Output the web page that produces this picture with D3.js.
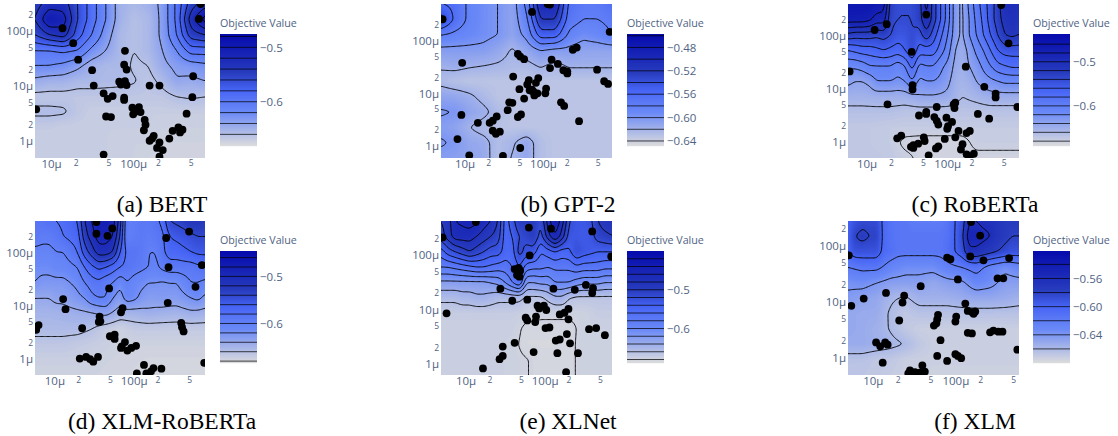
<!DOCTYPE html>
<html><head><meta charset="utf-8">
<script src="https://cdn.jsdelivr.net/npm/d3@7"></script>
<style>html,body{margin:0;padding:0;background:#fff}svg{display:block}</style>
</head><body><svg id="c" width="1118" height="436"></svg>
<script>
// Axis ticks (learning-rate style log axes, values in micro units)
const xTickValues=[10,20,50,100,200,500];
const xTickLabels=["10µ","2","5","100µ","2","5"];
const yTickValues=[1,2,5,10,20,50,100,200];
const yTickLabels=["1µ","2","5","10µ","2","5","100µ","2"];

// BERT
const bertX=[1.14,1.27,1.33,1.50,1.90,1.89,1.92,1.83,1.85,1.90,1.92,1.52,1.64,1.75,1.69,1.89,1.89,2.20,2.32,2.73,2.72,2.80,2.82,.82,1.67,1.73,1.99,2.07,2.02,2.09,2.00,2.14,2.15,2.13,2.65,2.48,2.55,2.60,2.57,2.44,2.25,2.23,2.20,2.32,2.29,2.36,2.32,1.64];
const bertY=[2.05,1.78,1.48,1.29,1.64,1.39,1.30,1.08,1.03,1.09,1.02,1.01,.87,.82,.77,.79,.75,1.01,1.01,1.18,.80,2.22,2.49,.58,.45,.44,.61,.62,.53,.53,.49,.39,.30,.20,.50,.19,.25,.21,.16,.05,.10,.05,.01,-.02,-.12,-.16,-.28,-.24];
const bertZ=[
[-.55,-.53,-.53,-.56,-.59,-.62,-.65,-.655,-.65,-.635,-.595,-.55,-.53],
[-.54,-.50,-.51,-.56,-.59,-.62,-.65,-.66,-.655,-.635,-.595,-.53,-.49],
[-.56,-.54,-.53,-.57,-.60,-.63,-.655,-.66,-.655,-.635,-.60,-.55,-.54],
[-.60,-.60,-.595,-.60,-.625,-.64,-.655,-.66,-.655,-.64,-.62,-.59,-.59],
[-.62,-.62,-.625,-.635,-.65,-.655,-.655,-.662,-.66,-.645,-.635,-.63,-.625],
[-.645,-.65,-.65,-.655,-.655,-.656,-.657,-.659,-.665,-.656,-.642,-.645,-.64],
[-.665,-.665,-.665,-.665,-.665,-.665,-.665,-.665,-.665,-.665,-.66,-.658,-.66],
[-.657,-.657,-.658,-.665,-.67,-.67,-.67,-.67,-.67,-.67,-.67,-.67,-.67],
[-.668,-.668,-.67,-.67,-.67,-.67,-.67,-.67,-.67,-.672,-.672,-.672,-.672],
[-.67,-.67,-.67,-.67,-.67,-.67,-.672,-.672,-.672,-.674,-.674,-.674,-.674],
[-.67,-.67,-.67,-.67,-.67,-.67,-.672,-.672,-.674,-.675,-.675,-.675,-.675]];
const bertLevels=[-.48,-.5,-.52,-.54,-.56,-.58,-.6,-.62,-.64,-.66];
const bertTicks=[-.5,-.6];

// GPT-2
const gptX=[.72,1.86,2.85,2.06,2.09,2.38,2.43,1.68,1.71,1.76,.97,2.11,2.19,2.09,2.26,2.31,2.31,2.69,1.62,1.82,1.80,1.94,1.91,2.78,2.83,1.70,1.86,1.85,1.83,1.88,1.93,1.89,2.04,2.03,1.76,1.57,1.61,2.23,2.27,1.55,1.72,1.68,1.41,1.36,1.32,1.17,.96,2.46,1.36,1.40,1.45,.91,1.71,1.06,1.49];
const gptY=[2.41,2.55,2.17,2.70,2.69,1.83,1.87,1.75,1.70,1.65,1.58,1.64,1.56,1.48,1.44,1.42,1.38,1.45,1.32,1.25,1.17,1.29,1.20,1.23,1.18,1.08,1.07,1.05,1.06,1.03,1.00,.96,1.09,1.00,.90,.83,.82,.83,.76,.68,.60,.55,.56,.48,.44,.44,.59,.47,.29,.23,.27,.13,-.04,-.18,-.19];
const gptZ=[
[-.56,-.565,-.585,-.595,-.60,-.61,-.575,-.50,-.50,-.565,-.575,-.575,-.565],
[-.53,-.565,-.585,-.595,-.60,-.61,-.585,-.52,-.52,-.57,-.58,-.58,-.575],
[-.58,-.585,-.59,-.595,-.60,-.61,-.595,-.55,-.55,-.585,-.595,-.59,-.58],
[-.605,-.605,-.605,-.605,-.612,-.622,-.612,-.60,-.605,-.605,-.61,-.61,-.61],
[-.618,-.615,-.618,-.62,-.622,-.625,-.625,-.618,-.625,-.618,-.618,-.618,-.618],
[-.625,-.63,-.632,-.632,-.632,-.632,-.632,-.632,-.632,-.632,-.632,-.632,-.632],
[-.61,-.612,-.617,-.625,-.632,-.632,-.632,-.632,-.632,-.632,-.632,-.632,-.632],
[-.598,-.60,-.61,-.616,-.626,-.632,-.632,-.632,-.632,-.632,-.632,-.632,-.632],
[-.605,-.61,-.62,-.626,-.63,-.632,-.632,-.632,-.632,-.632,-.632,-.632,-.632],
[-.598,-.602,-.612,-.615,-.627,-.622,-.612,-.628,-.632,-.632,-.632,-.632,-.632],
[-.605,-.608,-.61,-.614,-.628,-.619,-.612,-.628,-.632,-.632,-.632,-.632,-.632]];
const gptLevels=[-.46,-.48,-.5,-.52,-.54,-.56,-.58,-.6,-.62,-.64];
const gptTicks=[-.48,-.52,-.56,-.6,-.64];

// RoBERTa
const robertaX=[1.10,1.25,1.74,2.67,2.76,1.56,.79,2.23,1.57,1.57,2.46,2.60,2.60,1.26,1.87,2.10,2.08,2.09,2.87,1.74,1.74,1.65,2.38,2.52,1.84,1.87,1.89,1.99,2.06,2.01,2.00,2.14,2.28,2.24,1.43,1.38,1.71,1.72,1.97,2.10,1.64,1.58,1.55,1.58,1.89,1.86,2.19,2.17,2.24,2.33,2.28,1.77];
const robertaY=[2.11,2.22,2.40,2.58,1.86,1.70,1.33,1.42,1.07,.99,1.04,.91,.84,.71,.66,.74,.71,.64,.66,.57,.53,.50,.53,.44,.47,.40,.33,.46,.38,.30,.25,.21,.21,.17,.12,.07,.09,.02,.06,.09,-.03,-.06,-.09,-.11,-.08,-.12,-.04,-.14,-.23,-.22,-.27,-.25];
const robertaZ=[
[-.46,-.46,-.46,-.46,-.465,-.47,-.53,-.54,-.54,-.54,-.53,-.49,-.53,-.56,-.59,-.63,-.645,-.615,-.59,-.57,-.55,-.53,-.50,-.50,-.505],
[-.47,-.47,-.47,-.475,-.49,-.49,-.535,-.54,-.54,-.54,-.53,-.50,-.53,-.56,-.59,-.63,-.645,-.62,-.595,-.575,-.55,-.53,-.51,-.505,-.51],
[-.525,-.53,-.53,-.53,-.535,-.53,-.54,-.55,-.55,-.54,-.55,-.525,-.55,-.575,-.60,-.63,-.645,-.62,-.60,-.58,-.56,-.54,-.52,-.515,-.52],
[-.58,-.575,-.57,-.57,-.565,-.56,-.565,-.57,-.56,-.54,-.57,-.57,-.57,-.59,-.61,-.64,-.65,-.635,-.615,-.60,-.58,-.56,-.55,-.55,-.55],
[-.615,-.615,-.61,-.60,-.60,-.60,-.60,-.61,-.60,-.57,-.605,-.60,-.60,-.615,-.625,-.645,-.65,-.64,-.63,-.615,-.60,-.585,-.58,-.575,-.575],
[-.635,-.64,-.64,-.635,-.62,-.62,-.62,-.625,-.62,-.60,-.625,-.62,-.62,-.625,-.635,-.65,-.655,-.65,-.64,-.63,-.625,-.62,-.615,-.615,-.615],
[-.652,-.652,-.65,-.65,-.65,-.642,-.642,-.645,-.66,-.655,-.648,-.648,-.648],
[-.665,-.665,-.665,-.665,-.668,-.668,-.668,-.668,-.668,-.668,-.668,-.668,-.668],
[-.672,-.672,-.673,-.675,-.675,-.675,-.675,-.675,-.675,-.675,-.675,-.675,-.675],
[-.672,-.672,-.673,-.675,-.683,-.684,-.684,-.684,-.684,-.677,-.677,-.677,-.677],
[-.672,-.672,-.672,-.673,-.677,-.682,-.684,-.684,-.684,-.683,-.683,-.683,-.683]];
const robertaLevels=[-.46,-.48,-.5,-.52,-.54,-.56,-.58,-.6,-.62,-.64,-.66,-.68];
const robertaTicks=[-.5,-.6];

// XLM-RoBERTa
const xlmRobertaX=[1.53,1.53,1.67,1.73,2.70,2.41,2.44,2.86,2.78,1.69,1.11,1.14,2.43,1.86,1.84,1.57,1.58,1.56,.80,.77,1.35,2.60,2.61,2.63,1.70,1.76,1.76,1.89,1.85,1.84,1.92,1.97,2.03,1.32,1.40,1.45,1.49,1.55,2.13,2.25,2.35,2.22,2.16,2.04,2.89];
const xlmRobertaY=[2.58,2.36,2.32,2.46,2.40,2.28,1.73,1.77,1.36,1.33,1.13,.94,1.06,.96,.88,.80,.71,.70,.64,.55,.58,.68,.60,.52,.43,.46,.38,.32,.24,.21,.16,.21,.25,.01,.04,0,-.05,.04,-.11,-.17,-.18,-.23,-.27,-.27,-.07];
const xlmRobertaZ=[
[-.585,-.585,-.58,-.58,-.575,-.57,-.56,-.52,-.50,-.48,-.48,-.49,-.53,-.60,-.595,-.59,-.59,-.585,-.575,-.54,-.535,-.53,-.52,-.52,-.525],
[-.59,-.595,-.595,-.59,-.58,-.575,-.57,-.53,-.51,-.49,-.49,-.50,-.54,-.60,-.595,-.59,-.595,-.59,-.585,-.56,-.555,-.55,-.545,-.54,-.54],
[-.605,-.605,-.605,-.60,-.60,-.59,-.58,-.55,-.53,-.51,-.51,-.52,-.56,-.585,-.585,-.59,-.60,-.60,-.585,-.57,-.57,-.565,-.56,-.555,-.555],
[-.615,-.615,-.615,-.61,-.61,-.605,-.60,-.58,-.565,-.555,-.56,-.57,-.58,-.585,-.59,-.595,-.60,-.605,-.595,-.59,-.59,-.59,-.59,-.585,-.58],
[-.62,-.625,-.625,-.625,-.625,-.62,-.615,-.60,-.59,-.585,-.595,-.60,-.615,-.60,-.61,-.615,-.62,-.62,-.622,-.62,-.62,-.61,-.60,-.60,-.605],
[-.64,-.64,-.64,-.635,-.635,-.63,-.625,-.62,-.605,-.60,-.60,-.62,-.63,-.61,-.615,-.625,-.63,-.63,-.628,-.63,-.63,-.625,-.62,-.615,-.625],
[-.65,-.65,-.648,-.645,-.642,-.635,-.65,-.65,-.645,-.648,-.65,-.645,-.648],
[-.655,-.655,-.655,-.655,-.66,-.67,-.675,-.668,-.668,-.668,-.668,-.668,-.668],
[-.665,-.665,-.665,-.668,-.67,-.672,-.675,-.675,-.675,-.675,-.675,-.675,-.675],
[-.672,-.672,-.672,-.672,-.674,-.675,-.676,-.677,-.678,-.678,-.678,-.678,-.678],
[-.675,-.675,-.675,-.675,-.675,-.676,-.677,-.678,-.678,-.678,-.678,-.678,-.678]];
const xlmRobertaLevels=[-.46,-.48,-.5,-.52,-.54,-.56,-.58,-.6,-.62,-.64,-.66,-.68];
const xlmRobertaTicks=[-.5,-.6];

// XLNet
const xlnetX=[1.13,1.80,2.08,2.60,.71,1.81,2.84,1.62,1.67,1.69,1.65,1.68,1.44,2.11,2.38,2.52,2.61,2.60,1.59,1.78,.76,1.91,1.93,1.99,2.02,2.30,2.19,2.25,2.30,1.76,1.78,1.89,1.88,2.01,2.06,2.56,2.65,2.28,2.76,1.47,1.62,2.14,2.19,2.32,1.86,2.16,2.42,1.47,1.43,1.22,2.27];
const xlnetY=[2.60,2.50,2.48,2.43,2.32,1.99,1.97,1.74,1.76,1.71,1.63,1.60,1.38,1.38,1.36,1.45,1.39,1.30,1.16,1.18,.93,1.07,1.02,1.07,.99,1.01,.91,.94,.82,.85,.80,.87,.77,.66,.67,.64,.66,.55,.53,.32,.39,.43,.45,.38,.22,.20,.20,.15,.09,-.08,-.15];
const xlnetZ=[
[-.50,-.49,-.46,-.455,-.45,-.455,-.47,-.48,-.50,-.55,-.53,-.50,-.50,-.50,-.52,-.47,-.44,-.47,-.52,-.53,-.53,-.525,-.50,-.49,-.49],
[-.51,-.49,-.47,-.47,-.47,-.48,-.49,-.50,-.51,-.55,-.54,-.52,-.51,-.50,-.53,-.49,-.46,-.49,-.53,-.53,-.535,-.53,-.51,-.505,-.50],
[-.55,-.53,-.52,-.51,-.50,-.51,-.52,-.53,-.53,-.55,-.55,-.51,-.53,-.53,-.56,-.55,-.54,-.55,-.545,-.52,-.53,-.535,-.54,-.54,-.54],
[-.58,-.58,-.575,-.57,-.565,-.56,-.56,-.565,-.57,-.57,-.56,-.54,-.57,-.575,-.575,-.58,-.575,-.575,-.575,-.565,-.57,-.57,-.57,-.575,-.575],
[-.625,-.625,-.625,-.625,-.625,-.625,-.625,-.62,-.615,-.60,-.58,-.56,-.62,-.62,-.615,-.615,-.60,-.60,-.60,-.61,-.615,-.615,-.615,-.62,-.62],
[-.655,-.655,-.655,-.65,-.65,-.645,-.645,-.65,-.655,-.655,-.655,-.655,-.665,-.665,-.665,-.655,-.645,-.645,-.66,-.665,-.665,-.665,-.665,-.665,-.665],
[-.672,-.672,-.672,-.672,-.672,-.672,-.676,-.678,-.678,-.678,-.678,-.672,-.672],
[-.675,-.675,-.675,-.675,-.675,-.675,-.683,-.683,-.683,-.683,-.677,-.676,-.676],
[-.675,-.675,-.675,-.675,-.675,-.677,-.684,-.684,-.684,-.683,-.676,-.676,-.676],
[-.675,-.675,-.675,-.675,-.675,-.677,-.6795,-.683,-.683,-.683,-.676,-.676,-.676],
[-.675,-.675,-.675,-.675,-.675,-.677,-.6795,-.683,-.683,-.683,-.676,-.676,-.676]];
const xlnetLevels=[-.42,-.44,-.46,-.48,-.5,-.52,-.54,-.56,-.58,-.6,-.62,-.64,-.66,-.68];
const xlnetTicks=[-.5,-.6];

// XLM
const xlmX=[2.19,2.30,.71,1.90,1.94,2.18,2.34,2.65,2.03,2.51,2.58,1.58,1.16,1.38,.89,1.36,.74,2.12,2.15,2.20,2.24,2.22,1.79,1.78,2.01,2.00,1.32,1.77,1.74,2.15,2.20,2.42,2.46,2.52,2.57,1.82,1.04,1.09,1.15,1.18,2.75,1.78,2.00,2.03,2.07,1.90,1.12,1.60,1.45,1.51,1.63,1.57,1.43];
const xlmY=[2.42,2.18,1.83,1.79,1.76,1.81,1.74,1.78,1.40,1.42,1.42,1.28,1.16,1.11,1.06,.99,.93,.97,.84,.82,.83,.79,.77,.69,.74,.65,.67,.62,.58,.45,.44,.46,.49,.47,.47,.32,.28,.21,.28,.24,.15,.04,.07,.04,0,-.05,-.08,-.13,-.22,-.25,-.24,-.26,-.27];
const xlmZ=[
[-.60,-.59,-.585,-.585,-.585,-.605,-.612,-.615,-.615,-.62,-.62,-.62,-.62,-.62,-.615,-.60,-.59,-.56,-.56,-.565,-.565,-.57,-.575,-.575,-.575],
[-.60,-.58,-.575,-.58,-.58,-.605,-.612,-.615,-.615,-.615,-.615,-.615,-.615,-.615,-.612,-.60,-.585,-.55,-.55,-.555,-.56,-.57,-.575,-.58,-.58],
[-.60,-.59,-.59,-.59,-.59,-.605,-.61,-.615,-.615,-.615,-.615,-.615,-.615,-.615,-.61,-.60,-.59,-.565,-.565,-.57,-.575,-.58,-.585,-.59,-.59],
[-.62,-.615,-.615,-.628,-.635,-.635,-.635,-.625,-.62,-.612,-.628,-.637,-.63],
[-.638,-.635,-.64,-.645,-.645,-.645,-.65,-.645,-.643,-.63,-.635,-.645,-.645],
[-.642,-.647,-.65,-.658,-.662,-.655,-.655,-.655,-.652,-.65,-.65,-.652,-.655],
[-.65,-.652,-.652,-.662,-.668,-.665,-.665,-.665,-.665,-.665,-.665,-.665,-.665],
[-.65,-.652,-.655,-.661,-.668,-.672,-.672,-.672,-.672,-.672,-.672,-.672,-.672],
[-.652,-.652,-.654,-.657,-.660,-.668,-.672,-.672,-.672,-.672,-.672,-.672,-.672],
[-.665,-.665,-.668,-.668,-.672,-.672,-.672,-.672,-.672,-.672,-.672,-.672,-.672],
[-.667,-.667,-.668,-.67,-.672,-.672,-.674,-.674,-.674,-.674,-.674,-.674,-.674]];
const xlmLevels=[-.54,-.56,-.58,-.6,-.62,-.64,-.66];
const xlmTicks=[-.56,-.6,-.64];

const names=["(a) BERT","(b) GPT-2","(c) RoBERTa","(d) XLM-RoBERTa","(e) XLNet","(f) XLM"];

const colX=[[35,205,220,162],[441,612,627,568],[848,1019,1033,975]];
const rowY=[[4,158,34,146,212,27],[221,375,251,363,429,244]];
const panels=[
 {c:0,r:0,xd:[.805,2.874],yd:[-.303,2.49],zd:[-.6814,-.4755],X:bertX,Y:bertY,Z:bertZ,L:bertLevels,T:bertTicks,f:".1f"},
 {c:1,r:0,xd:[.70,2.88],yd:[-.23,2.70],zd:[-.6486,-.457],X:gptX,Y:gptY,Z:gptZ,L:gptLevels,T:gptTicks,f:".2f"},
 {c:2,r:0,xd:[.77,2.89],yd:[-.30,2.60],zd:[-.691,-.437],X:robertaX,Y:robertaY,Z:robertaZ,L:robertaLevels,T:robertaTicks,f:".1f"},
 {c:0,r:1,xd:[.755,2.90],yd:[-.30,2.60],zd:[-.684,-.446],X:xlmRobertaX,Y:xlmRobertaY,Z:xlmRobertaZ,L:xlmRobertaLevels,T:xlmRobertaTicks,f:".1f"},
 {c:1,r:1,xd:[.69,2.85],yd:[-.20,2.62],zd:[-.689,-.40],X:xlnetX,Y:xlnetY,Z:xlnetZ,L:xlnetLevels,T:xlnetTicks,f:".1f"},
 {c:2,r:1,xd:[.70,2.77],yd:[-.30,2.44],zd:[-.68,-.521],X:xlmX,Y:xlmY,Z:xlmZ,L:xlmLevels,T:xlmTicks,f:".2f"}
];
const blues=d3.scaleLinear().domain([0,.35,.5,.6,.7,1])
 .range(["rgb(5,10,172)","rgb(40,60,190)","rgb(70,100,245)","rgb(90,120,245)","rgb(106,137,247)","rgb(220,220,220)"]);
const axisColor="#4f6384", font="'Open Sans',sans-serif";
const svg=d3.select("#c");
svg.append("rect").attr("width",1118).attr("height",436).attr("fill","#fff");

// Surface resampled onto a fine lattice for d3.contours; rows may have different column counts.
const GW=145,GH=121,PAD=6;
function upsample(Z){
  const W=GW+2*PAD,H=GH+2*PAD,ny=Z.length;
  const rowVal=(r,t)=>{const n=r.length-1,q=t*n,i=Math.min(n-1,Math.floor(q)),f=q-i;return r[i]*(1-f)+r[i+1]*f;};
  const v=new Float64Array(W*H);
  for(let j=0;j<H;j++){const ty=Math.max(0,Math.min(1,(j-PAD)/(GH-1)))*(ny-1);const y0=Math.min(ny-2,Math.floor(ty)),fy=ty-y0;
    for(let i=0;i<W;i++){const t=Math.max(0,Math.min(1,(i-PAD)/(GW-1)));
      v[j*W+i]=rowVal(Z[y0],t)*(1-fy)+rowVal(Z[y0+1],t)*fy;}}
  d3.blur2({data:v,width:W,height:H},.8);
  return {v,W,H};
}
panels.forEach((p,idx)=>{
  const [x0,x1,barX,capX]=colX[p.c],[y0,y1,barT,barB,capY,titleY]=rowY[p.r];
  const x=d3.scaleLog().domain(p.xd.map(d=>10**d)).range([x0,x1]);
  const y=d3.scaleLog().domain(p.yd.map(d=>10**d)).range([y1,y0]);
  const g=svg.append("g");
  const clip="clip"+idx;
  g.append("clipPath").attr("id",clip).append("rect").attr("x",x0).attr("y",y0).attr("width",x1-x0).attr("height",y1-y0);
  const plot=g.append("g").attr("clip-path",`url(#${clip})`);
  const color=v=>blues((p.zd[1]-v)/(p.zd[1]-p.zd[0]));
  const {v,W,H}=upsample(p.Z);
  const px=d3.scaleLinear().domain([PAD+.5,PAD+.5+GW-1]).range([x0,x1]);
  const py=d3.scaleLinear().domain([PAD+.5,PAD+.5+GH-1]).range([y0,y1]);
  const path=d3.geoPath(d3.geoTransform({point(a,b){this.stream.point(px(a),py(b));}}));
  plot.append("rect").attr("x",x0).attr("y",y0).attr("width",x1-x0).attr("height",y1-y0).attr("fill",color(p.zd[0]));
  const step=(p.zd[1]-p.zd[0])/110;
  const ths=d3.range(110).map(i=>p.zd[0]+i*step);
  const cg=d3.contours().size([W,H]).smooth(true);
  plot.selectAll("path.band").data(cg.thresholds(ths)(v)).join("path").attr("class","band")
    .attr("d",path).attr("fill",d=>color(d.value+step/2));
  plot.selectAll("path.line").data(cg.thresholds(p.L)(v)).join("path").attr("class","line")
    .attr("d",path).attr("fill","none").attr("stroke","#000").attr("stroke-width",1).attr("stroke-opacity",.9);
  plot.selectAll("circle").data(p.X.map((d,i)=>[d,p.Y[i]])).join("circle")
    .attr("cx",d=>x(10**d[0])).attr("cy",d=>y(10**d[1])).attr("r",3.9).attr("fill","#000");

  const xa=d3.axisBottom(x).tickValues(xTickValues).tickFormat((d,i)=>xTickLabels[i]).tickSize(0).tickPadding(2);
  const ya=d3.axisLeft(y).tickValues(yTickValues).tickFormat((d,i)=>yTickLabels[i]).tickSize(0).tickPadding(2);
  const styleAxis=(s,labels)=>{s.select(".domain").remove();
    s.selectAll("text").attr("fill",axisColor).style("font-family",font)
     .style("font-size",(d,i)=>labels[i].length>1?"11.5px":"8.5px");};
  g.append("g").attr("transform",`translate(0,${y1})`).call(xa).call(s=>styleAxis(s,xTickLabels));
  g.append("g").attr("transform",`translate(${x0},0)`).call(ya).call(s=>styleAxis(s,yTickLabels));

  const bar=d3.scaleLinear().domain(p.zd).range([barB,barT]);
  g.append("g").selectAll("rect").data(d3.range(barT,barB)).join("rect")
    .attr("x",barX).attr("width",37).attr("y",d=>d).attr("height",1.2).attr("fill",d=>color(bar.invert(d+.5)));
  g.append("g").selectAll("line").data(p.L).join("line")
    .attr("x1",barX).attr("x2",barX+37).attr("y1",d=>bar(d)).attr("y2",d=>bar(d))
    .attr("stroke","#000").attr("stroke-width",.9).attr("stroke-opacity",.8);
  const za=d3.axisRight(bar).tickValues(p.T).tickFormat(d3.format(p.f)).tickSize(0).tickPadding(3);
  g.append("g").attr("transform",`translate(${barX+37},0)`).call(za).call(s=>{s.select(".domain").remove();
    s.selectAll("text").attr("fill",axisColor).style("font-family",font).style("font-size","11.5px");});
  g.append("text").attr("x",barX).attr("y",titleY).text("Objective Value")
    .attr("fill",axisColor).style("font-family",font).style("font-size","10.7px");
  g.append("text").attr("x",capX).attr("y",capY).attr("text-anchor","middle").text(names[idx])
    .attr("fill","#000").style("font-family","'Liberation Serif',serif").style("font-size","23.5px");
});
</script></body></html>
